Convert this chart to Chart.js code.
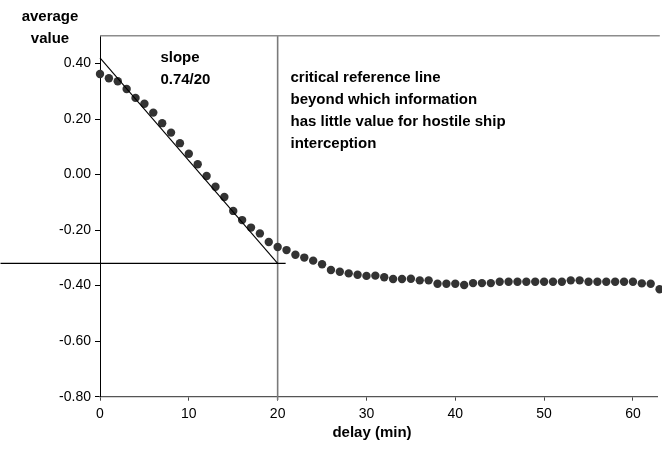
<!DOCTYPE html>
<html>
<head>
<meta charset="utf-8">
<script src="https://cdn.jsdelivr.net/npm/chart.js@4.4.1/dist/chart.umd.min.js"></script>
<style>
  html, body { margin: 0; padding: 0; background: #fff; }
  #wrap { width: 662px; height: 467px; position: relative; }
</style>
</head>
<body>
<div id="wrap"><canvas id="c" width="662" height="467"></canvas></div>
<script>
// ---- data ----
const delayMin = [0,1,2,3,4,5,6,7,8,9,10,11,12,13,14,15,16,17,18,19,20,21,22,23,24,25,26,27,28,29,30,31,32,33,34,35,36,37,38,39,40,41,42,43,44,45,46,47,48,49,50,51,52,53,54,55,56,57,58,59,60,61,62,63];
const averageValue = [0.362,0.347,0.336,0.308,0.276,0.255,0.223,0.185,0.151,0.113,0.075,0.037,-0.005,-0.044,-0.081,-0.131,-0.164,-0.191,-0.212,-0.243,-0.261,-0.272,-0.289,-0.299,-0.310,-0.323,-0.344,-0.350,-0.356,-0.361,-0.365,-0.364,-0.370,-0.376,-0.376,-0.375,-0.381,-0.381,-0.393,-0.393,-0.393,-0.398,-0.391,-0.391,-0.391,-0.386,-0.386,-0.386,-0.386,-0.386,-0.386,-0.386,-0.386,-0.381,-0.381,-0.386,-0.386,-0.386,-0.386,-0.386,-0.386,-0.392,-0.393,-0.413];
const slopeLineX = [0, 20];
const slopeLineY = [0.42, -0.32];
const refLineX = [20, 20];
const refLineY = [0.5, -0.812];
const levelLineX = [-11.2, 20.9];
const levelLineY = [-0.32, -0.32];
const xTickValues = [0, 10, 20, 30, 40, 50, 60];
const yTickValues = [-0.8, -0.6, -0.4, -0.2, 0.0, 0.2, 0.4];
const slopeText = ["slope", "0.74/20"];
const criticalText = ["critical reference line", "beyond which information", "has little value for hostile ship", "interception"];
const yTitle = ["average", "value"];
const xTitle = "delay (min)";

const toPts = (xs, ys) => xs.map((x, i) => ({ x: x, y: ys[i] }));

const FONT = '"Liberation Sans", Arial, Helvetica, sans-serif';

const textPlugin = {
  id: 'texts',
  beforeDraw(chart) {
    const ctx = chart.ctx;
    ctx.save();
    ctx.fillStyle = '#fff';
    ctx.fillRect(0, 0, chart.width, chart.height);
    ctx.restore();
  },
  afterDatasetsDraw(chart) {
    const ctx = chart.ctx;
    const ca = chart.chartArea;
    const xs = chart.scales.x, ys = chart.scales.y;
    ctx.save();
    // top border of plot area
    ctx.strokeStyle = '#8c8c8c';
    ctx.lineWidth = 1.5;
    ctx.beginPath();
    ctx.moveTo(ca.left, ca.top);
    ctx.lineTo(ca.right + 2, ca.top);
    ctx.stroke();

    ctx.fillStyle = '#000';
    ctx.font = 'bold 15px ' + FONT;
    ctx.textBaseline = 'middle';
    ctx.textAlign = 'left';
    // slope text
    let sx = xs.getPixelForValue(6.8);
    let sy = ys.getPixelForValue(0.42);
    slopeText.forEach((t, i) => ctx.fillText(t, sx, sy + i * 22));
    // critical text
    let cx = xs.getPixelForValue(21.45);
    let cy = ys.getPixelForValue(0.348);
    criticalText.forEach((t, i) => ctx.fillText(t, cx, cy + i * 22));
    // y title
    ctx.textAlign = 'center';
    ctx.fillText(yTitle[0], 50, 17);
    ctx.fillText(yTitle[1], 50, 39);
    // x title
    ctx.fillText(xTitle, 372, 433);
    ctx.restore();
  }
};

new Chart(document.getElementById('c'), {
  type: 'scatter',
  data: {
    datasets: [
      {
        label: 'reference',
        data: toPts(refLineX, refLineY),
        showLine: true,
        borderColor: '#7a7a7a',
        borderWidth: 1.6,
        pointRadius: 0,
        clip: false,
        order: 3
      },
      {
        label: 'average value',
        data: toPts(delayMin, averageValue),
        showLine: false,
        backgroundColor: '#333333',
        borderColor: '#333333',
        borderWidth: 0,
        pointRadius: 4.2,
        pointHoverRadius: 4.2,
        clip: false,
        order: 2
      },
      {
        label: 'slope',
        data: toPts(slopeLineX, slopeLineY),
        showLine: true,
        borderColor: '#000',
        borderWidth: 1.1,
        pointRadius: 0,
        clip: false,
        order: 1
      },
      {
        label: 'level',
        data: toPts(levelLineX, levelLineY),
        showLine: true,
        borderColor: '#000',
        borderWidth: 1.1,
        pointRadius: 0,
        clip: false,
        order: 1
      }
    ]
  },
  options: {
    responsive: false,
    animation: false,
    devicePixelRatio: 1,
    layout: { padding: { top: 35.7, right: 0, left: 0, bottom: 0 } },
    plugins: { legend: { display: false }, tooltip: { enabled: false } },
    scales: {
      x: {
        type: 'linear',
        min: 0,
        max: 62.8,
        afterBuildTicks(scale) { scale.ticks = xTickValues.map(v => ({ value: v })); },
        afterFit(scale) { scale.height = 467 - 396.7; },
        grid: { display: true, drawOnChartArea: false, drawTicks: true, tickLength: 4, color: '#444', lineWidth: 1 },
        border: { display: true, color: '#555', width: 1.3 },
        ticks: { font: { size: 14, family: FONT }, color: '#000', padding: 5, maxRotation: 0, autoSkip: false,
                 callback: v => String(v) }
      },
      y: {
        type: 'linear',
        min: -0.8,
        max: 0.5,
        afterBuildTicks(scale) { scale.ticks = yTickValues.map(v => ({ value: v })); },
        afterFit(scale) { scale.width = 100; },
        grid: { display: true, drawOnChartArea: false, drawTicks: true, tickLength: 5, color: '#000', lineWidth: 1 },
        border: { display: true, color: '#000', width: 1 },
        ticks: { font: { size: 14, family: FONT }, color: '#000', padding: 4,
                 callback: v => Number(v).toFixed(2) }
      }
    }
  },
  plugins: [textPlugin]
});
</script>
</body>
</html>
